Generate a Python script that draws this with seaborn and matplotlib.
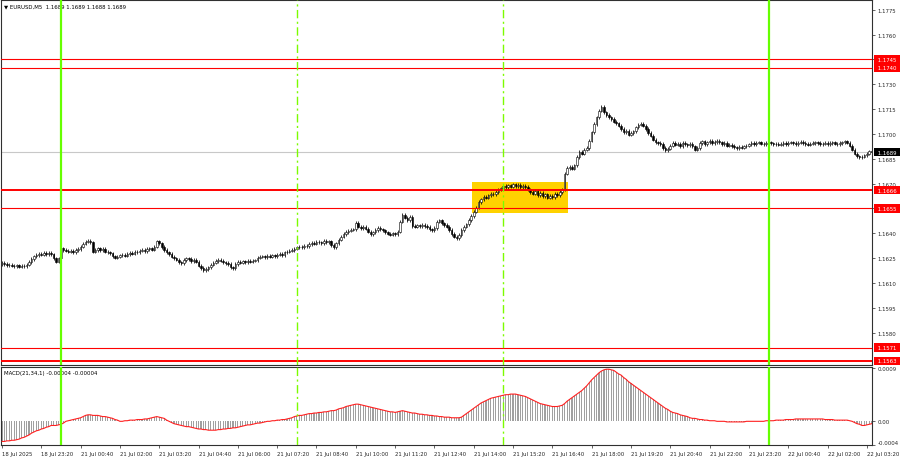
import numpy as np
import pandas as pd
import matplotlib
matplotlib.use("Agg")
import matplotlib.pyplot as plt
import matplotlib.transforms as mtransforms
from matplotlib.patches import Rectangle
from matplotlib import font_manager
import seaborn as sns

# ---------------- data ----------------
symbol_title = "\u25BC EURUSD,M5  1.1689 1.1689 1.1688 1.1689"
macd_title = "MACD(21,34,1) -0.00004 -0.00004"

# close of each 5-minute bar, in points above 1.00000 (1 point = 0.00001)
close_pts = [
    16222, 16214, 16208, 16211, 16205, 16200, 16206, 16198, 16204, 16201,
    16210, 16226, 16245, 16262, 16270, 16278, 16272, 16281, 16276, 16283,
    16274, 16250, 16228, 16250, 16310, 16300, 16296, 16290, 16295, 16288,
    16300, 16305, 16320, 16338, 16350, 16355, 16345, 16290, 16300, 16310,
    16298, 16305, 16290, 16285, 16280, 16262, 16252, 16258, 16268, 16272,
    16266, 16275, 16282, 16278, 16290, 16285, 16295, 16300, 16292, 16305,
    16310, 16302, 16320, 16352, 16340, 16318, 16300, 16285, 16275, 16260,
    16250, 16240, 16225, 16218, 16238, 16250, 16245, 16232, 16240, 16228,
    16205, 16190, 16178, 16185, 16195, 16210, 16222, 16232, 16240, 16235,
    16225, 16220, 16215, 16195, 16188, 16215, 16228, 16222, 16230, 16226,
    16232, 16229, 16234, 16236, 16252, 16258, 16262, 16255, 16265, 16260,
    16268, 16262, 16272, 16278, 16270, 16285, 16290, 16296, 16300, 16308,
    16315, 16320, 16316, 16325, 16322, 16335, 16342, 16338, 16350, 16345,
    16340, 16355, 16348, 16352, 16330, 16318, 16340, 16362, 16380, 16395,
    16408, 16415, 16422, 16425, 16465, 16440, 16430, 16438, 16428, 16410,
    16395, 16405, 16420, 16432, 16425, 16418, 16405, 16398, 16392, 16400,
    16395, 16410, 16470, 16510, 16495, 16480, 16500, 16445, 16440, 16448,
    16442, 16450, 16445, 16438, 16425, 16418, 16432, 16470, 16478, 16460,
    16450, 16440, 16420, 16395, 16380, 16372, 16390, 16420, 16440, 16455,
    16480, 16505, 16530, 16555, 16590, 16605, 16620, 16615, 16630, 16640,
    16635, 16650, 16665, 16672, 16685, 16678, 16690, 16682, 16695, 16685,
    16692, 16678, 16688, 16680, 16665, 16650, 16640, 16655, 16630, 16645,
    16625, 16635, 16615, 16628, 16620, 16640, 16632, 16650, 16665, 16760,
    16795, 16800, 16790, 16810, 16860, 16890, 16880, 16905, 16915, 16960,
    17010, 17060, 17100, 17140, 17165, 17130, 17115, 17100, 17090, 17075,
    17065, 17050, 17030, 17010, 17020, 16995, 17005, 17015, 17040, 17055,
    17060, 17050, 17030, 17005, 16990, 16965, 16950, 16945, 16940, 16915,
    16900, 16910, 16930, 16945, 16935, 16940, 16928, 16945, 16938, 16932,
    16940, 16925, 16905, 16915, 16945, 16955, 16940, 16950, 16958, 16945,
    16952, 16960, 16950, 16938, 16945, 16930, 16935, 16928, 16920, 16915,
    16922, 16918, 16925, 16930, 16938, 16945, 16940, 16948, 16950, 16942,
    16938, 16945, 16950, 16944, 16938, 16942, 16935, 16940, 16945, 16940,
    16948, 16950, 16945, 16940, 16948, 16952, 16945, 16940, 16935, 16942,
    16945, 16950, 16945, 16938, 16942, 16948, 16940, 16945, 16950, 16942,
    16938, 16945, 16950, 16955, 16948, 16930, 16905, 16880, 16865, 16858,
    16862, 16870, 16880, 16895, 16890,
]
first_open_pts = 16215

# MACD(21,34,1) main value of each bar, in units of 0.00001
macd_e5 = [
    -34, -34, -33, -33, -32, -32, -31, -30, -28, -27,
    -25, -23, -20, -18, -16, -15, -13, -12, -10, -9,
    -7, -7, -7, -6, -5, -3, 0, 1, 2, 3,
    4, 5, 6, 8, 10, 11, 11, 10, 10, 10,
    9, 8, 8, 7, 6, 5, 3, 2, 0, 0,
    1, 1, 2, 2, 2, 3, 3, 3, 4, 4,
    5, 6, 7, 8, 7, 6, 5, 2, 0, -2,
    -4, -5, -6, -7, -8, -9, -9, -10, -11, -12,
    -13, -13, -14, -14, -15, -15, -15, -15, -14, -14,
    -13, -13, -12, -12, -11, -11, -10, -9, -8, -7,
    -6, -6, -5, -4, -3, -3, -2, -1, 0, 0,
    1, 1, 2, 2, 3, 3, 4, 5, 6, 8,
    9, 10, 10, 11, 12, 13, 13, 14, 14, 15,
    15, 16, 16, 17, 18, 18, 19, 21, 22, 23,
    25, 26, 27, 28, 29, 29, 28, 27, 26, 25,
    24, 23, 22, 21, 20, 19, 18, 17, 16, 16,
    15, 16, 17, 18, 17, 16, 15, 14, 14, 13,
    12, 12, 11, 11, 10, 10, 9, 9, 8, 8,
    7, 7, 7, 6, 6, 6, 6, 7, 10, 13,
    16, 19, 22, 25, 28, 31, 33, 35, 37, 39,
    40, 41, 42, 43, 44, 45, 45, 46, 46, 46,
    45, 44, 43, 42, 40, 38, 36, 34, 32, 30,
    29, 28, 27, 26, 25, 25, 25, 26, 27, 30,
    34, 37, 40, 43, 46, 49, 52, 56, 60, 65,
    70, 74, 78, 82, 85, 87, 88, 88, 87, 86,
    83, 80, 78, 74, 71, 67, 64, 61, 58, 55,
    52, 49, 46, 43, 40, 37, 34, 31, 28, 25,
    22, 20, 17, 15, 14, 13, 11, 10, 9, 8,
    6, 5, 5, 4, 3, 3, 2, 2, 1, 1,
    1, 0, 0, 0, 0, -1, -1, -1, -1, -1,
    -1, -1, -1, 0, 0, 0, 0, 0, 0, 0,
    0, 1, 1, 1, 1, 2, 2, 2, 2, 3,
    3, 3, 3, 4, 4, 4, 4, 4, 4, 4,
    4, 4, 4, 4, 4, 3, 3, 3, 3, 2,
    2, 2, 2, 2, 2, 1, 0, -2, -4, -5,
    -7, -7, -6, -5, -4,
]

time_labels = [
    "18 Jul 2025", "18 Jul 23:20", "21 Jul 00:40", "21 Jul 02:00", "21 Jul 03:20",
    "21 Jul 04:40", "21 Jul 06:00", "21 Jul 07:20", "21 Jul 08:40", "21 Jul 10:00",
    "21 Jul 11:20", "21 Jul 12:40", "21 Jul 14:00", "21 Jul 15:20", "21 Jul 16:40",
    "21 Jul 18:00", "21 Jul 19:20", "21 Jul 20:40", "21 Jul 22:00", "21 Jul 23:20",
    "22 Jul 00:40", "22 Jul 02:00", "22 Jul 03:20",
]
time_label_bars = [0, 16, 32, 48, 64, 80, 96, 112, 128, 144, 160, 176, 192,
                   208, 224, 240, 256, 272, 288, 304, 320, 336, 352]

price_ticks = [1.1580, 1.1595, 1.1610, 1.1625, 1.1640, 1.1655, 1.1670,
               1.1685, 1.1700, 1.1715, 1.1730, 1.1745, 1.1760, 1.1775]
levels = [1.1745, 1.1740, 1.1666, 1.1655, 1.1571, 1.1563]
level_bold = [False, False, True, False, False, True]
bid_price = 1.1689
zone_bars = [191.3, 230.4]
zone_prices = [1.16521, 1.16712]
day_start_bars = [24, 312]
session_bars = [120, 204]
macd_ticks = [0.0009, 0.0, -0.0004]
macd_tick_labels = ["0.0009", "0.00", "-0.0004"]

# ---------------- style ----------------
sns.set_style("white")
available = {f.name for f in font_manager.fontManager.ttflist}
if "Liberation Sans Narrow" in available:
    FAMILY = ["Liberation Sans Narrow", "DejaVu Sans"]
    FS = 5.0
else:
    FAMILY = ["DejaVu Sans"]
    FS = 3.9
plt.rcParams["font.family"] = FAMILY
GREEN = "#66FF00"
RED = "#FF0000"

W, H = 900, 460
fig = plt.figure(figsize=(9, 4.6), dpi=100)
fig.patch.set_facecolor("white")

ax = fig.add_axes([1 / W, (H - 366) / H, 871 / W, 365 / H])
axm = fig.add_axes([1 / W, (H - 446) / H, 871 / W, 78 / H], sharex=ax)

n = len(close_pts)
bars = np.arange(n)
close = 1 + np.array(close_pts) / 1e5
opens = np.concatenate([[1 + first_open_pts / 1e5], close[:-1]])
WICK = 0.0001
high = np.maximum(opens, close) + WICK
low = np.minimum(opens, close) - WICK
bull = close >= opens

# yellow zone (background)
ax.add_patch(Rectangle((zone_bars[0], zone_prices[0]), zone_bars[1] - zone_bars[0],
                       zone_prices[1] - zone_prices[0], facecolor="#FFD200",
                       edgecolor="none", zorder=0.5))

# bid line
ax.axhline(bid_price, color="#C8C8C8", lw=0.8, zorder=1)

# candles
ax.vlines(bars, low, high, color="black", lw=0.55, zorder=2)
body_h = np.abs(close - opens)
body_h = np.where(body_h < 0.00001, 0.00001, body_h)
ax.bar(bars[bull], body_h[bull], bottom=np.minimum(opens, close)[bull], width=0.65,
       color="white", edgecolor="black", linewidth=0.4, zorder=2.2)
ax.bar(bars[~bull], body_h[~bull], bottom=np.minimum(opens, close)[~bull], width=0.65,
       color="black", edgecolor="black", linewidth=0.4, zorder=2.2)

# horizontal levels
for lv, bold in zip(levels, level_bold):
    ax.axhline(lv, color=RED, lw=1.4 if bold else 0.8, zorder=3)

# vertical session lines
for a in (ax, axm):
    for b in day_start_bars:
        a.axvline(b, color=GREEN, lw=1.6, zorder=4)
    for b in session_bars:
        a.axvline(b, color="#7CFC00", lw=1.0, ls=(0, (6, 2.5, 1.5, 2.5)), zorder=4)

# axes limits
xlim = (-0.41, 354.1)
ax.set_xlim(*xlim)
ax.set_ylim(1.156050, 1.178086)

# right price axis
ax.yaxis.tick_right()
ax.set_yticks(price_ticks)
ax.set_yticklabels(["" if any(abs(t - lv) < 0.00005 for lv in levels) else f"{t:.4f}"
                    for t in price_ticks])
ax.tick_params(axis="y", direction="out", length=2.5, width=0.5, labelsize=FS,
               pad=1.5, right=True, left=False)
ax.tick_params(axis="x", bottom=False, labelbottom=False)

# level labels on the price axis
trans = mtransforms.blended_transform_factory(ax.transAxes, ax.transData)
for lv in levels:
    ax.text(1.0045, lv, f" {lv:.4f} ", transform=trans, ha="left", va="center",
            fontsize=FS, color="white", clip_on=False, zorder=10,
            bbox=dict(boxstyle="square,pad=0.3", fc=RED, ec="none"))
ax.text(1.0045, bid_price, f" {bid_price:.4f} ", transform=trans, ha="left", va="center",
        fontsize=FS, color="white", clip_on=False, zorder=10,
        bbox=dict(boxstyle="square,pad=0.3", fc="black", ec="none"))

ax.text(0.004, 0.984, symbol_title, transform=ax.transAxes, ha="left", va="center",
        fontsize=FS, color="black", family=["DejaVu Sans"] if FS < 4.5 else FAMILY)

# ---------------- MACD panel ----------------
df = pd.DataFrame({"bar": bars, "macd": np.array(macd_e5) / 1e5})
sns.barplot(data=df, x="bar", y="macd", native_scale=True, color="#A0A0A0",
            width=0.45, saturation=1, errorbar=None, linewidth=0, ax=axm, zorder=2)
sns.lineplot(data=df, x="bar", y="macd", color="#FF2020", lw=0.8, ax=axm, zorder=3)
axm.set_xlabel("")
axm.set_ylabel("")
axm.set_xlim(*xlim)
axm.set_ylim(-0.0003956, 0.0009175)
axm.yaxis.tick_right()
axm.set_yticks(macd_ticks)
axm.set_yticklabels(macd_tick_labels)
axm.tick_params(axis="y", direction="out", length=2.5, width=0.5, labelsize=FS,
                pad=1.5, right=True, left=False)
for lbl, t in zip(axm.get_yticklabels(), macd_ticks):
    if t < 0:
        lbl.set_va("bottom")
axm.set_xticks(time_label_bars)
axm.set_xticklabels(time_labels, ha="left")
axm.tick_params(axis="x", direction="out", length=2.5, width=0.5, labelsize=FS,
                pad=2, bottom=True)
axm.text(0.004, 0.93, macd_title, transform=axm.transAxes, ha="left", va="center",
         fontsize=FS, color="black")

for a in (ax, axm):
    for s in a.spines.values():
        s.set_visible(True)
        s.set_color("#303030")
        s.set_linewidth(0.8)
    a.grid(False)
    a.set_facecolor("white")

fig.savefig("out.png", dpi=100, facecolor="white")
